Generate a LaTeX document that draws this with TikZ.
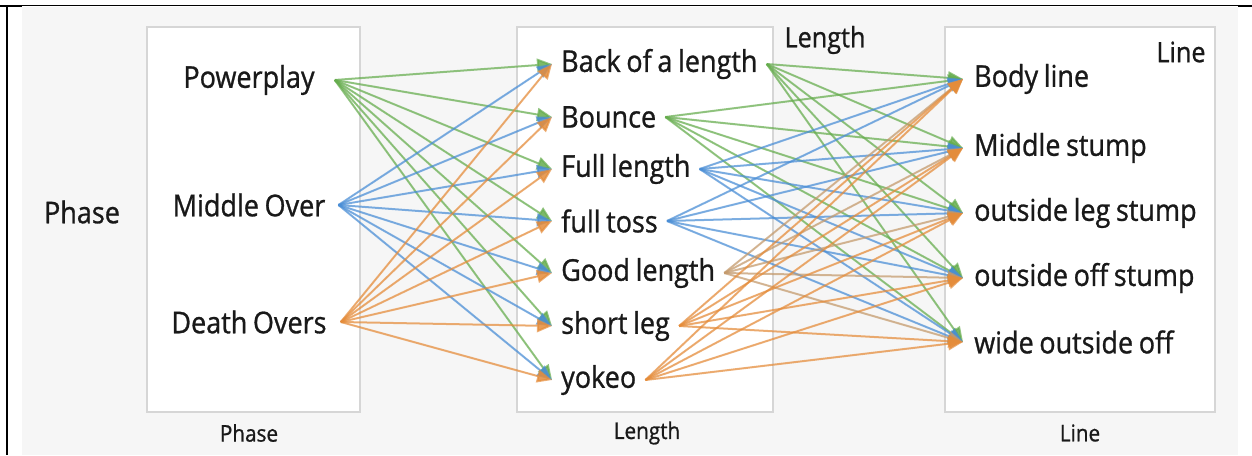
\documentclass[tikz,border=0pt]{standalone}
\usepackage{fontspec}
\setmainfont{Open Sans}[FakeStretch=0.9, FakeBold=0.9, WordSpace=0.8]
\usetikzlibrary{arrows.meta}
\definecolor{cg}{HTML}{66AD4E}
\definecolor{cb}{HTML}{4A8ED6}
\definecolor{co}{HTML}{E58C3A}
\definecolor{cm}{HTML}{C49A6C}
\definecolor{bg}{HTML}{F6F6F6}
\definecolor{bx}{HTML}{D6D6D6}
\tikzset{
  panel/.style={draw=bx, fill=white, line width=1.2pt, minimum width=#1, minimum height=385pt, inner sep=0pt},
  item/.style={font=\fontsize{30}{34}\selectfont, inner ysep=2pt, text=black!90},
  small/.style={font=\fontsize{23}{26}\selectfont, inner sep=0pt, text=black!90},
  edge/.style={line width=2pt, draw opacity=0.7, fill opacity=0.85, -{Triangle[length=15pt,width=13pt]}},
}
\begin{document}
\begin{tikzpicture}[x=1pt,y=-1pt]
\useasboundingbox (0,0) rectangle (1252,455);
\fill[bg] (22,7) rectangle (1238,455);
\draw[line width=1pt] (7,5.5) -- (1252,5.5);
\draw[line width=2.5pt] (0,6) -- (22,6);
\draw[line width=2.5pt] (1238,6) -- (1252,6);
\draw[line width=2pt] (7,5) -- (7,455);
% panels
\node[panel=213pt] (pbox) at (253.5,219.5) {};
\node[panel=256pt] (lbox) at (645,219.5) {};
\node[panel=270pt] (rbox) at (1080,219.5) {};
\node[small] (pcap) at (249,433) {Phase};
\node[small] (lcap) at (647,433) {Length};
\node[small] (rcap) at (1080,433) {Line};
\node[item, inner sep=0pt] (plab) at (82,212) {Phase};
\node[item, inner sep=0pt, font=\fontsize{28}{32}\selectfont] (ltop) at (825,40) {Length};
\node[item, inner sep=0pt, font=\fontsize{28}{32}\selectfont] (rtop) at (1181,52) {Line};
% phase
\node[item, inner xsep=20pt] (pp) at (249,80) {Powerplay};
\node[item, inner xsep=13pt] (mo) at (249,205) {Middle Over};
\node[item, inner xsep=14pt] (dov) at (249,322) {Death Overs};
% length
\node[item, anchor=west, inner xsep=9pt] (l1) at (552,64) {Back of a length};
\node[item, anchor=west, inner xsep=9pt] (l2) at (552,117) {Bounce};
\node[item, anchor=west, inner xsep=9pt] (l3) at (552,169) {Full length};
\node[item, anchor=west, inner xsep=9pt] (l4) at (552,221) {full toss};
\node[item, anchor=west, inner xsep=9pt] (l5) at (552,273) {Good length};
\node[item, anchor=west, inner xsep=9pt] (l6) at (552,326) {short leg};
\node[item, anchor=west, inner xsep=9pt] (l7) at (552,380) {yokeo};
% line
\node[item, anchor=west, inner xsep=11pt] (r1) at (963,79) {Body line};
\node[item, anchor=west, inner xsep=11pt] (r2) at (963,148) {Middle stump};
\node[item, anchor=west, inner xsep=11pt] (r3) at (963,213) {outside leg stump};
\node[item, anchor=west, inner xsep=11pt] (r4) at (963,278) {outside off stump};
\node[item, anchor=west, inner xsep=11pt] (r5) at (963,342) {wide outside off};
% edges phase -> length
\foreach \s/\c in {pp/cg, mo/cb, dov/co}
  \foreach \t in {l1,l2,l3,l4,l5,l6,l7}
    \draw[edge, draw=\c, fill=\c] (\s.east) -- (\t.west);
% edges length -> line
\foreach \s/\c in {l1/cg, l2/cg, l3/cb, l4/cb, l5/cm, l6/co, l7/co}
  \foreach \t in {r1,r2,r3,r4,r5}
    \draw[edge, draw=\c, fill=\c] (\s.east) -- (\t.west);
\end{tikzpicture}
\end{document}
